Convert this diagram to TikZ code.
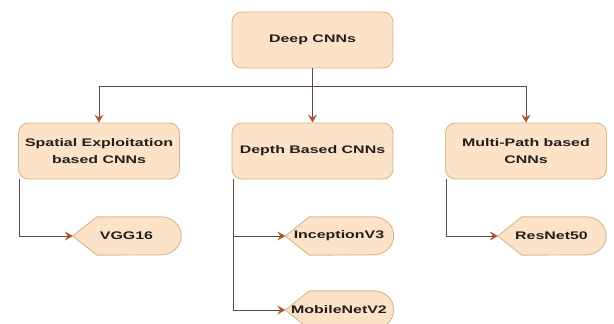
\documentclass[tikz,border=0pt]{standalone}
\usepackage{fontspec}
\setmainfont{Liberation Sans}
\newfontfamily\boxfont[FakeStretch=1.45]{Liberation Sans}
\usetikzlibrary{arrows.meta}
\definecolor{boxfill}{HTML}{FCE3C8}
\definecolor{boxedge}{HTML}{D7B888}
\definecolor{wire}{HTML}{5E4A40}
\definecolor{tipc}{HTML}{B5522A}
\definecolor{ink}{HTML}{221E1A}
\tikzset{
  mainbox/.style={draw=boxedge, fill=boxfill, line width=0.9pt, rounded corners=10pt,
    minimum width=161pt, minimum height=56pt, inner sep=0pt, align=center,
    text=ink, font=\boxfont\bfseries\fontsize{11}{16.5}\selectfont},
  leaf/.style={minimum width=107pt, minimum height=38pt, inner sep=0pt,
    text=ink, font=\boxfont\bfseries\fontsize{11}{14}\selectfont},
  leafline/.style={draw=boxedge, fill=boxfill, line width=0.9pt},
  conn/.style={draw=wire, line width=0.8pt,
    -{Stealth[length=8pt, width=9pt, inset=3pt, color=tipc]}},
  plain/.style={draw=wire, line width=0.8pt}
}
% display-shaped outline drawn round a named leaf node
\newcommand\leafoutline[1]{%
  \path[leafline] (#1.west) -- ([xshift=24pt]#1.north west)
    -- ([xshift=-19pt]#1.north east)
    arc[start angle=90, end angle=-90, x radius=20pt, y radius=19pt]
    -- ([xshift=24pt]#1.south west) -- cycle;}
\begin{document}
\begin{tikzpicture}[x=1pt, y=-1pt]
\useasboundingbox[fill=white] (0,0) rectangle (614,324);

% category boxes
\node[mainbox] (deep)  at (312.5,40)  {Deep CNNs};
\node[mainbox] (spat)  at (99,151)    {Spatial Exploitation\\based CNNs};
\node[mainbox] (depth) at (312.5,151) {Depth Based CNNs};
\node[mainbox] (multi) at (526,151)   {Multi-Path based\\CNNs};

% leaf nodes (outlines first, then the labels on top)
\path (126.5,236) node[leaf] (vgg) {};
\path (339,236)   node[leaf] (inc) {};
\path (339,310)   node[leaf] (mob) {};
\path (551.5,236) node[leaf] (res) {};
\leafoutline{vgg}
\leafoutline{inc}
\leafoutline{mob}
\leafoutline{res}
\node[leaf] at (vgg) {VGG16};
\node[leaf] at (inc) {InceptionV3};
\node[leaf] at (mob) {MobileNetV2};
\node[leaf] at (res) {ResNet50};

% top-level branching
\coordinate (hub) at (312.5,86);
\draw[plain] (deep.south) -- (hub);
\draw[conn] (hub) -| (spat.north);
\draw[conn] (hub) -| (multi.north);
\draw[conn] (deep.south) -- (depth.north);

% leaf connectors
\draw[conn] ([xshift=1.5pt]spat.south west) |- (vgg.west);
\draw[conn] ([xshift=1.5pt]depth.south west) |- (inc.west);
\draw[conn] ([xshift=1.5pt]depth.south west) |- (mob.west);
\draw[conn] ([xshift=1.5pt]multi.south west) |- (res.west);
\end{tikzpicture}
\end{document}
